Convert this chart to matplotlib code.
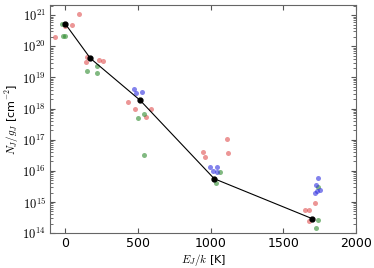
import numpy as np
import matplotlib
matplotlib.use('Agg')
import matplotlib.pyplot as plt

# mean level populations (black line)
fit_E = [0, 172, 514, 1024, 1700]
fit_N = [5.2e20, 4.1e19, 1.85e18, 5.6e15, 2.9e14]

# individual components
red_E = [-71, 0, 44, 92, 140, 147, 230, 262, 434, 480, 553, 588, 946, 960, 1111, 1116, 1646, 1673, 1676, 1715]
red_N = [2.0e20, 4.5e20, 4.7e20, 1.05e21, 3.2e19, 4.4e19, 3.5e19, 3.4e19, 1.66e18, 9.8e17, 5.2e17, 1.0e18,
         3.9e16, 2.7e16, 1.05e17, 3.8e16, 5.4e14, 5.4e14, 2.4e14, 9.1e14]

green_E = [-21, -14, 0, 147, 216, 218, 498, 544, 544, 1033, 1061, 1726, 1739, 1740]
green_N = [5.2e20, 2.1e20, 2.1e20, 1.6e19, 1.4e19, 2.4e19, 5.0e17, 6.5e17, 3.2e16, 4.0e15, 9.5e15, 1.45e14, 2.6e14, 3.1e15]

blue_E = [475, 487, 530, 992, 1015, 1043, 1043, 1718, 1725, 1732, 1739, 1755]
blue_N = [4.4e18, 3.1e18, 3.5e18, 1.35e16, 1.0e16, 1.35e16, 9.5e15, 1.95e15, 3.6e15, 2.25e15, 5.9e15, 2.5e15]

plt.rcParams['font.size'] = 9
plt.rcParams['mathtext.fontset'] = 'cm'
fig = plt.figure(figsize=(3.74, 2.68), dpi=100)
ax = fig.add_axes([0.134, 0.13, 0.818, 0.851])

ax.scatter(red_E, red_N, s=13, color='#e05050', alpha=0.6, lw=0)
ax.scatter(green_E, green_N, s=13, color='#2e8b2e', alpha=0.6, lw=0)
ax.scatter(blue_E, blue_N, s=13, color='#3030e0', alpha=0.6, lw=0)
ax.plot(fit_E, fit_N, color='black', lw=0.8, marker='o', ms=3.5)

ax.set_yscale('log')
ax.set_xlim(-105, 2000)
ax.set_ylim(1e14, 2.1e21)
ax.set_xticks([0, 500, 1000, 1500, 2000])
ax.set_yticks([1e14, 1e15, 1e16, 1e17, 1e18, 1e19, 1e20, 1e21])
ax.set_yticklabels(['$\\mathsf{10^{%d}}$' % p for p in range(14, 22)])
ax.set_xlabel('$E_J/k$ [K]', fontsize=8, labelpad=1)
ax.set_ylabel('$N_J/g_J$ [cm$^{-2}$]', fontsize=8, labelpad=1)

ax.tick_params(which='both', direction='in', top=True, right=True, color='#555555')
ax.tick_params(which='major', length=3.5, pad=3)
ax.tick_params(which='minor', length=2)
ax.tick_params(axis='x', which='minor', bottom=False, top=False)
for sp in ax.spines.values():
    sp.set_color('#666666')

fig.savefig('out.png', dpi=100)
